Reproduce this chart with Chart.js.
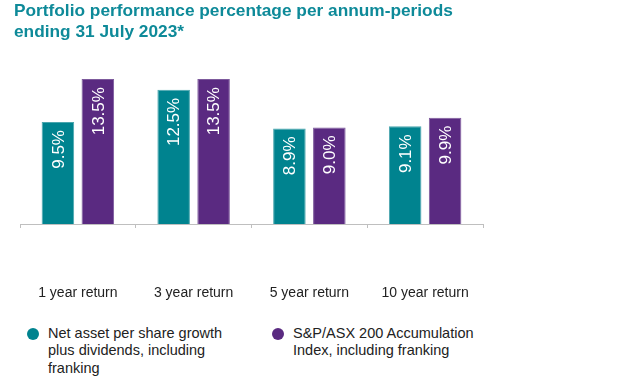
<!DOCTYPE html>
<html>
<head>
<meta charset="utf-8">
<script src="https://cdn.jsdelivr.net/npm/chart.js@4"></script>
<style>
    body { margin: 0; background: #fff; font-family: "Liberation Sans", Arial, sans-serif; }
    #wrap { position: relative; width: 638px; height: 376px; overflow: hidden; }
    #perf-chart { position: absolute; left: 0; top: 0; }
    #title { position: absolute; left: 14px; top: 0px; color: #0e8a99; font-weight: bold; font-size: 17.3px; line-height: 21px; }
    .legend-item { position: absolute; top: 325px; font-size: 14.5px; line-height: 17.3px; color: #222; }
    .dot { position: absolute; width: 12px; height: 12px; border-radius: 50%; top: 3px; }
</style>
</head>
<body>
<div id="wrap">
    <canvas id="perf-chart" width="638" height="300"></canvas>
    <div id="title">Portfolio performance percentage per annum-periods<br>ending 31 July 2023*</div>
    <div class="legend-item" style="left:48px"><span class="dot" style="left:-21px;background:#00838f"></span>Net asset per share growth<br>plus dividends, including<br>franking</div>
    <div class="legend-item" style="left:293px"><span class="dot" style="left:-21px;background:#5a2a81"></span>S&amp;P/ASX 200 Accumulation<br>Index, including franking</div>
</div>
<script>
const categories = ['1 year return', '3 year return', '5 year return', '10 year return'];
const netAssetGrowth = [9.5, 12.5, 8.9, 9.1];
const asx200Index = [13.5, 13.5, 9.0, 9.9];
const seriesNames = ['Net asset per share growth plus dividends, including franking', 'S&P/ASX 200 Accumulation Index, including franking'];

// white rotated value labels inside the top of each bar
const barLabels = {
    id: 'barLabels',
    afterDatasetsDraw(chart) {
        const ctx = chart.ctx;
        ctx.save();
        ctx.fillStyle = '#ffffff';
        ctx.font = '17px "Liberation Sans", Arial, sans-serif';
        ctx.textAlign = 'right';
        ctx.textBaseline = 'middle';
        chart.data.datasets.forEach((ds, i) => {
            chart.getDatasetMeta(i).data.forEach((bar, j) => {
                ctx.save();
                ctx.translate(bar.x + 1, bar.y + 8);
                ctx.rotate(-Math.PI / 2);
                ctx.fillText(ds.data[j].toFixed(1) + '%', 0, 0);
                ctx.restore();
            });
        });
        ctx.restore();
    }
};

const ctx = document.getElementById('perf-chart').getContext('2d');
new Chart(ctx, {
    type: 'bar',
    data: {
        labels: categories,
        datasets: [
            { label: seriesNames[0], data: netAssetGrowth, backgroundColor: '#00838f', borderColor: '#4aa6ae', borderWidth: 1 },
            { label: seriesNames[1], data: asx200Index, backgroundColor: '#5a2a81', borderColor: '#7d5a9c', borderWidth: 1 },
        ],
    },
    options: {
        responsive: false,
        animation: false,
        categoryPercentage: 0.69,
        barPercentage: 0.815,
        layout: { padding: { left: 20, right: 155, top: 63, bottom: 0 } },
        plugins: {
            legend: { display: false },
            tooltip: { enabled: false },
        },
        scales: {
            x: {
                grid: { display: true, drawOnChartArea: false, offset: true, tickLength: 4, color: '#bfbfbf' },
                border: { display: true, color: '#bfbfbf' },
                ticks: { padding: 57, color: '#222', font: { size: 14, family: '"Liberation Sans", Arial, sans-serif' } },
                afterFit(scale) {
                    // big tick padding inflates the fitted box, pin it back
                    scale.height = 76;
                    scale.paddingLeft = 0;
                    scale.paddingRight = 0;
                },
            },
            y: {
                display: false,
                min: 0,
                max: 15,
            },
        },
    },
    plugins: [barLabels],
});
</script>
</body>
</html>
